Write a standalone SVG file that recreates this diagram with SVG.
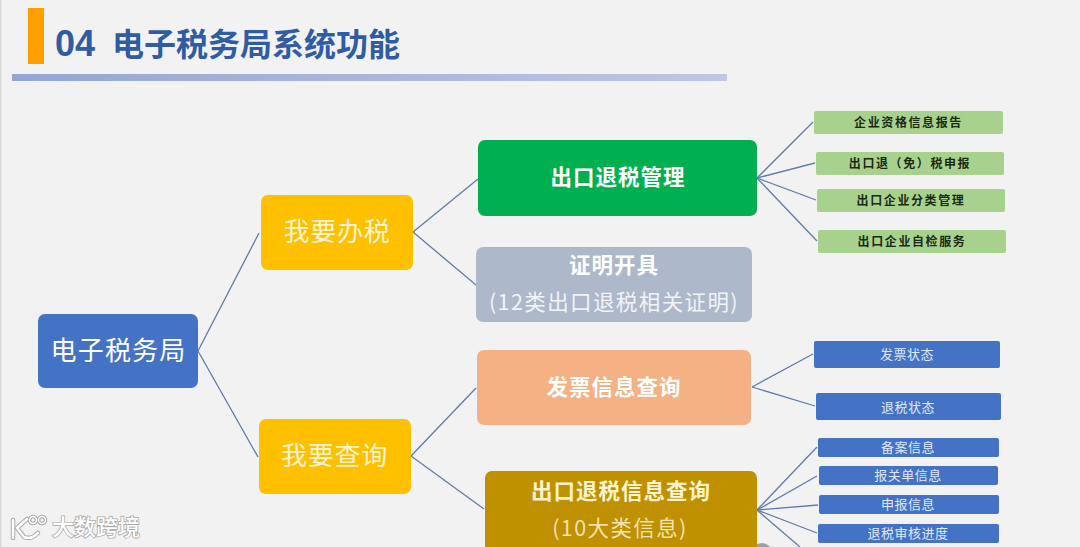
<svg xmlns="http://www.w3.org/2000/svg" width="1080" height="547" viewBox="0 0 1080 547">
<style>
text{font-family:"Noto Sans CJK SC","Liberation Sans",sans-serif;text-anchor:middle}
.c line{stroke:#5f7cab;stroke-width:1.3}
.big{font-size:26px;fill:#fff4d0;letter-spacing:.8px}
.mid{font-size:21.5px;font-weight:700;fill:#fff;letter-spacing:1px}
.sub{font-size:21.5px;fill:#fff;fill-opacity:.85;letter-spacing:1.4px}
.g rect{fill:#a9d18e}
.g text{font-size:12px;font-weight:700;fill:#1a2a12;letter-spacing:1.6px}
.b rect{fill:#4472c4}
.b text{font-size:13px;fill:#dfe8f7;letter-spacing:.5px}
.wm{font-size:22px;font-weight:500;fill:#fff;stroke:#a8a8a8;stroke-width:1.6px;paint-order:stroke}
</style>
<defs><linearGradient id="bar" x1="0" x2="1" y1="0" y2="0"><stop offset="0" stop-color="#94a6d4"/><stop offset="1" stop-color="#bec7e3"/></linearGradient></defs>
<rect width="1080" height="547" fill="#f2f2f2"/>
<rect width="1.5" height="547" fill="#d9d9d9"/>
<g id="header">
<rect x="28" y="8" width="16" height="56" fill="#ff9f00"/>
<rect x="12" y="74" width="715" height="7" fill="url(#bar)"/>
<text x="75" y="56" style="font-size:36px;font-weight:700;fill:#2f5ca3;font-family:'Liberation Sans',sans-serif">04</text>
<text x="256" y="56" style="font-size:32px;font-weight:700;fill:#2f5ca3">电子税务局系统功能</text>
</g>
<g id="connectors" class="c">
<line x1="198" y1="351" x2="259" y2="233"/><line x1="198" y1="351" x2="258" y2="457"/>
<line x1="413" y1="232" x2="478" y2="179"/><line x1="413" y1="232" x2="476" y2="285"/>
<line x1="411" y1="456" x2="476" y2="388"/><line x1="411" y1="456" x2="484" y2="509"/>
<line x1="757" y1="178" x2="813" y2="122"/><line x1="757" y1="178" x2="815" y2="163"/><line x1="757" y1="178" x2="816" y2="200"/><line x1="757" y1="178" x2="817" y2="241"/>
<line x1="752" y1="387" x2="813" y2="354"/><line x1="752" y1="387" x2="815" y2="406"/>
<line x1="757" y1="510" x2="817" y2="447"/><line x1="757" y1="510" x2="817" y2="476"/><line x1="757" y1="510" x2="818" y2="505"/><line x1="757" y1="510" x2="817" y2="533"/><line x1="757" y1="510" x2="800" y2="547"/>
</g>
<g id="root"><rect x="38" y="314" width="160" height="74" rx="7" fill="#4472c4"/><text x="118.500" y="360" class="big" style="fill:#fff;letter-spacing:1.2px">电子税务局</text></g>
<g id="ban"><rect x="261" y="195" width="152" height="75" rx="7" fill="#ffc000"/><text x="337" y="241" class="big">我要办税</text></g>
<g id="cha"><rect x="259" y="419" width="152" height="75" rx="7" fill="#ffc000"/><text x="334.500" y="465" class="big">我要查询</text></g>
<g id="mgmt"><rect x="478" y="140" width="279" height="76" rx="7" fill="#00b050"/><text x="618" y="185" class="mid">出口退税管理</text></g>
<g id="cert"><rect x="476" y="247" width="276" height="75" rx="7" fill="#adb9ca"/><text x="614" y="273" class="mid">证明开具</text><text x="614" y="310" class="sub">(12类出口退税相关证明)</text></g>
<g id="invoice"><rect x="477" y="350" width="274" height="75" rx="7" fill="#f4b183"/><text x="614" y="395" class="mid">发票信息查询</text></g>
<g id="rebate"><circle cx="762" cy="553" r="10" fill="#a0a0a0"/><rect x="485" y="471" width="272" height="90" rx="7" fill="#bf9000"/><text x="621" y="499" class="mid" style="fill:#fff4d0">出口退税信息查询</text><text x="620" y="536" class="sub" style="fill:#fff4d0">(10大类信息)</text></g>
<g id="g1" class="g"><rect x="814" y="111" width="189" height="23" rx="2"/><text x="908.500" y="127">企业资格信息报告</text></g>
<g id="g2" class="g"><rect x="816" y="152" width="188" height="23" rx="2"/><text x="910" y="168">出口退（免）税申报</text></g>
<g id="g3" class="g"><rect x="817" y="189" width="188" height="23" rx="2"/><text x="911" y="205">出口企业分类管理</text></g>
<g id="g4" class="g"><rect x="818" y="230" width="188" height="23" rx="2"/><text x="912" y="246">出口企业自检服务</text></g>
<g id="b1" class="b"><rect x="814" y="341" width="186" height="27" rx="2"/><text x="907" y="359">发票状态</text></g>
<g id="b2" class="b"><rect x="816" y="393" width="185" height="27" rx="2"/><text x="908" y="412">退税状态</text></g>
<g id="b3" class="b"><rect x="818" y="438" width="181" height="19" rx="2"/><text x="908" y="452">备案信息</text></g>
<g id="b4" class="b"><rect x="819" y="466" width="179" height="19" rx="2"/><text x="908" y="480">报关单信息</text></g>
<g id="b5" class="b"><rect x="819" y="495" width="180" height="19" rx="2"/><text x="908" y="509">申报信息</text></g>
<g id="b6" class="b"><rect x="818" y="524" width="181" height="19" rx="2"/><text x="908" y="538">退税审核进度</text></g>
<g id="watermark">
<g fill="none" stroke="#a8a8a8" stroke-width="4.500" stroke-linecap="round"><path d="M13 520V538"/><path d="M27 519L17 528L24 537Q31 540 38 533"/><circle cx="33" cy="520" r="3.500" stroke-width="3.500"/><circle cx="42" cy="520" r="3.500" stroke-width="3.500"/></g>
<g fill="none" stroke="#fff" stroke-width="2.500" stroke-linecap="round"><path d="M13 520V538"/><path d="M27 519L17 528L24 537Q31 540 38 533"/><circle cx="33" cy="520" r="3.500" stroke-width="1.500"/><circle cx="42" cy="520" r="3.500" stroke-width="1.500"/></g>
<text x="96" y="535" class="wm">大数跨境</text>
</g>
</svg>
